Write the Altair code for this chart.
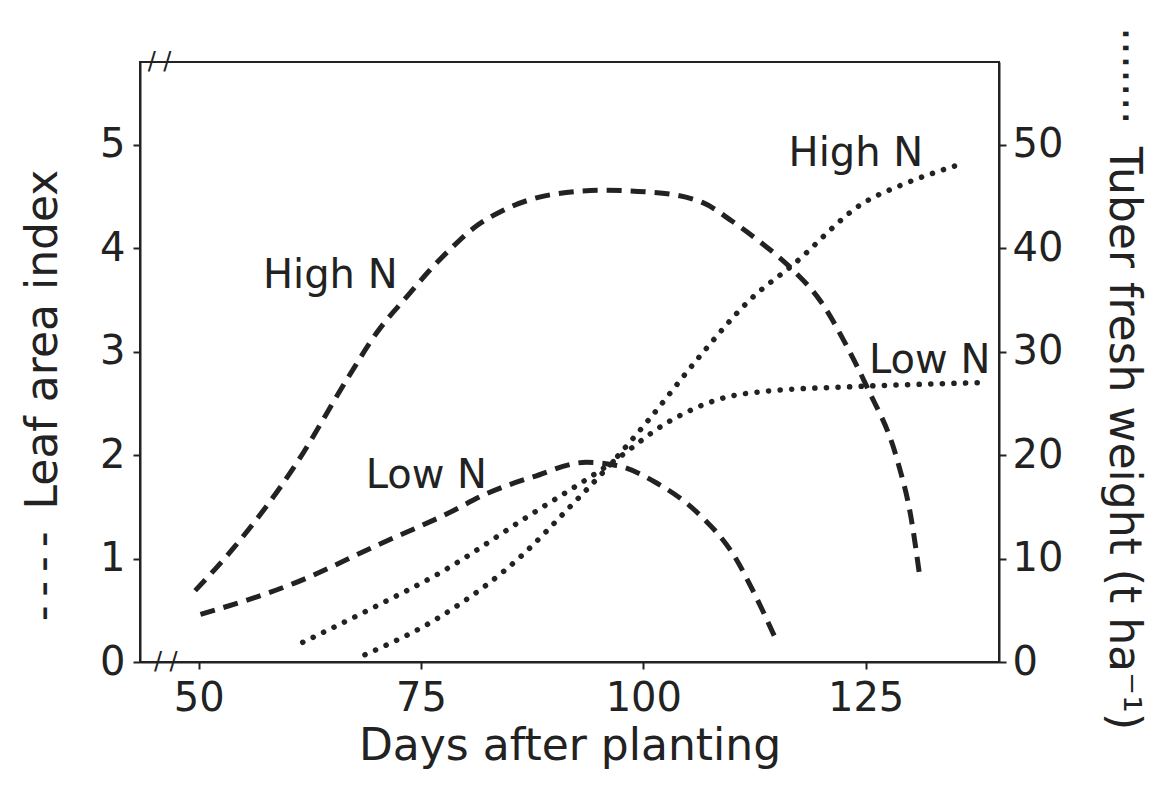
import altair as alt
import pandas as pd

# ---- data ----
lai_high_days = [49.6, 54.0, 61.0, 66.8, 70.0, 73.8, 75.8, 78.4, 81.0, 84.1, 89.8, 95.4, 101.1,
                 106.7, 110.0, 113.3, 116.7, 120.0, 122.9, 125.2, 128.6, 130.1, 131.1]
lai_high = [0.69, 1.11, 1.92, 2.75, 3.18, 3.57, 3.77, 4.0, 4.2, 4.36, 4.52, 4.56, 4.54,
            4.44, 4.26, 4.05, 3.80, 3.48, 3.05, 2.65, 1.94, 1.40, 0.82]

lai_low_days = [50.2, 60.7, 70.1, 78.1, 82.2, 87.6, 93.6, 97.0, 101.5, 106.0, 110.4, 112.5, 114.8]
lai_low = [0.46, 0.76, 1.13, 1.44, 1.62, 1.79, 1.93, 1.90, 1.73, 1.45, 1.00, 0.66, 0.24]

tuber_high_days = [68.7, 77.2, 86.6, 91.3, 96.5, 100.5, 106.3, 112.1, 116.7, 124.8, 129.3, 135.2]
tuber_high = [0.7, 4.4, 10.5, 14.6, 19.3, 23.3, 29.5, 35.1, 38.3, 44.4, 46.2, 48.0]

tuber_low_days = [61.7, 69.5, 77.3, 86.7, 96.5, 102.8, 108.5, 114.1, 123.1, 137.9]
tuber_low = [1.9, 5.2, 8.7, 13.9, 19.3, 23.2, 25.4, 26.2, 26.6, 27.0]

x_ticks = [50, 75, 100, 125]
lai_ticks = [0, 1, 2, 3, 4, 5]
tuber_ticks = [0, 10, 20, 30, 40, 50]

lai_label_text = ["High N", "Low N"]
lai_label_day = [64.8, 75.6]
lai_label_val = [3.73, 1.80]

tuber_label_text = ["High N", "Low N"]
tuber_label_day = [123.9, 132.2]
tuber_label_val = [49.1, 29.1]

break_day = [46.3, 45.6]
break_val = [0.0, 5.8]

# ---- tables ----
lai_df = pd.concat([
    pd.DataFrame({"day": lai_high_days, "lai": lai_high, "series": "High N"}),
    pd.DataFrame({"day": lai_low_days, "lai": lai_low, "series": "Low N"}),
])
tuber_df = pd.concat([
    pd.DataFrame({"day": tuber_high_days, "tuber": tuber_high, "series": "High N"}),
    pd.DataFrame({"day": tuber_low_days, "tuber": tuber_low, "series": "Low N"}),
])
lai_lab_df = pd.DataFrame({"day": lai_label_day, "lai": lai_label_val, "txt": lai_label_text})
tuber_lab_df = pd.DataFrame({"day": tuber_label_day, "tuber": tuber_label_val, "txt": tuber_label_text})
break_df = pd.DataFrame({"day": break_day, "lai": break_val, "txt": ["/ /", "/ /"]})

INK = "#222222"
FONT = "DejaVu Sans"

x_enc = alt.X(
    "day:Q",
    scale=alt.Scale(domain=[43.4, 140], nice=False, zero=False),
    axis=alt.Axis(values=x_ticks, title="Days after planting", labelPadding=9,
                  titlePadding=6, format="d"),
)
y_lai = alt.Y(
    "lai:Q",
    scale=alt.Scale(domain=[0, 5.8], nice=False),
    axis=alt.Axis(orient="left", values=lai_ticks, format="d",
                  title="-\u2009-\u2009-\u2009-\u2002Leaf area index",
                  labelPadding=8, titlePadding=34, titleY=333),
)
y_tuber = alt.Y(
    "tuber:Q",
    scale=alt.Scale(domain=[0, 58], nice=False),
    axis=alt.Axis(orient="right", values=tuber_ticks, format="d",
                  title="\u00b7\u00b7\u00b7\u00b7\u00b7\u00b7\u00b7\u2002Tuber fresh weight (t ha\u207b\u00b9)",
                  labelPadding=6, titlePadding=38, titleY=316),
)

lai_lines = alt.Chart(lai_df).mark_line(
    color=INK, strokeWidth=5, strokeDash=[15, 9], interpolate="monotone"
).encode(x=x_enc, y=y_lai, detail="series:N")

lai_text = alt.Chart(lai_lab_df).mark_text(
    font=FONT, fontSize=40, color=INK, align="center", baseline="middle"
).encode(x=x_enc, y=y_lai, text="txt:N")

breaks = alt.Chart(break_df).mark_text(
    font=FONT, fontSize=24, color=INK, align="center", baseline="middle"
).encode(x=x_enc, y=y_lai, text="txt:N")

tuber_lines = alt.Chart(tuber_df).mark_line(
    color=INK, strokeWidth=5.5, strokeDash=[0.1, 11.5], strokeCap="round",
    interpolate="monotone"
).encode(x=x_enc, y=y_tuber, detail="series:N")

tuber_text = alt.Chart(tuber_lab_df).mark_text(
    font=FONT, fontSize=40, color=INK, align="center", baseline="middle"
).encode(x=x_enc, y=y_tuber, text="txt:N")

left = alt.layer(lai_lines, lai_text, breaks)
right = alt.layer(tuber_lines, tuber_text)

chart = alt.layer(left, right).resolve_scale(y="independent").properties(
    width=859, height=600,
    autosize=alt.AutoSizeParams(type="none"),
    padding={"left": 132, "top": 54, "right": 160, "bottom": 110},
    background="white",
).configure_axis(
    labelFont=FONT, titleFont=FONT, labelFontSize=40, titleFontSize=44,
    labelColor=INK, titleColor=INK, domainColor=INK, tickColor=INK,
    domainWidth=2, tickWidth=2, tickSize=7, grid=False, titleFontWeight="normal",
).configure_view(stroke=INK, strokeWidth=2)

chart.save("out.html", embed_options={"renderer": "svg", "actions": False})
